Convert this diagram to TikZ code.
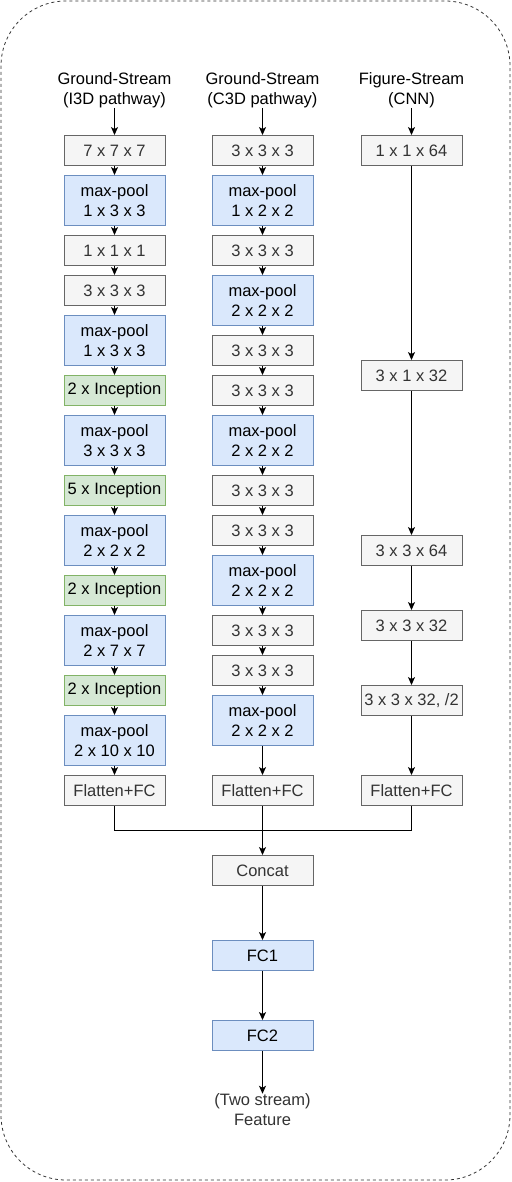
\documentclass[tikz,border=0pt]{standalone}
\usepackage{fontspec}
\setmainfont{Liberation Sans}
\usetikzlibrary{arrows.meta}
\definecolor{gfill}{HTML}{F5F5F5}
\definecolor{gline}{HTML}{666666}
\definecolor{gtext}{HTML}{333333}
\definecolor{bfill}{HTML}{DAE8FC}
\definecolor{bline}{HTML}{6C8EBF}
\definecolor{nfill}{HTML}{D5E8D4}
\definecolor{nline}{HTML}{82B366}
\tikzset{
  base/.style={minimum width=101pt, inner sep=0pt, align=center, line width=0.9pt,
    font=\fontsize{16.5}{20}\selectfont},
  graybox/.style={base, minimum height=30pt, fill=gfill, draw=gline, text=gtext},
  bluebox/.style={base, minimum height=50pt, fill=bfill, draw=bline},
  blueone/.style={base, minimum height=30pt, fill=bfill, draw=bline},
  greenbox/.style={base, minimum height=30pt, fill=nfill, draw=nline},
  lbl/.style={align=center, inner sep=0pt, font=\fontsize{16.5}{20}\selectfont},
  arr/.style={line width=0.9pt, -{Stealth[length=8pt,width=7pt,inset=2pt]}},
  ln/.style={line width=0.9pt}
}
\begin{document}
\begin{tikzpicture}[x=1pt,y=-1pt]
\useasboundingbox (0,0) rectangle (511,1182);
\draw[gray!40!black, line width=0.8pt, dash pattern=on 3pt off 3pt, rounded corners=65pt] (1,1) rectangle (510,1180);

% left column
\node[lbl] (hl) at (114.5,90) {Ground-Stream\\(I3D pathway)};
\node[graybox] (l1) at (114.5,150.5) {7 x 7 x 7};
\node[bluebox] (l2) at (114.5,200.5) {max-pool\\1 x 3 x 3};
\node[graybox] (l3) at (114.5,250.5) {1 x 1 x 1};
\node[graybox] (l4) at (114.5,290.5) {3 x 3 x 3};
\node[bluebox] (l5) at (114.5,340.5) {max-pool\\1 x 3 x 3};
\node[greenbox] (l6) at (114.5,390.5) {2 x Inception};
\node[bluebox] (l7) at (114.5,440.5) {max-pool\\3 x 3 x 3};
\node[greenbox] (l8) at (114.5,490.5) {5 x Inception};
\node[bluebox] (l9) at (114.5,540.5) {max-pool\\2 x 2 x 2};
\node[greenbox] (l10) at (114.5,590.5) {2 x Inception};
\node[bluebox] (l11) at (114.5,640.5) {max-pool\\2 x 7 x 7};
\node[greenbox] (l12) at (114.5,690.5) {2 x Inception};
\node[bluebox] (l13) at (114.5,740.5) {max-pool\\2 x 10 x 10};
\node[graybox] (lf) at (114.5,790.5) {Flatten+FC};

% middle column
\node[lbl] (hm) at (262.5,90) {Ground-Stream\\(C3D pathway)};
\node[graybox] (m1) at (262.5,150.5) {3 x 3 x 3};
\node[bluebox] (m2) at (262.5,200.5) {max-pool\\1 x 2 x 2};
\node[graybox] (m3) at (262.5,250.5) {3 x 3 x 3};
\node[bluebox] (m4) at (262.5,300.5) {max-pool\\2 x 2 x 2};
\node[graybox] (m5) at (262.5,350.5) {3 x 3 x 3};
\node[graybox] (m6) at (262.5,390.5) {3 x 3 x 3};
\node[bluebox] (m7) at (262.5,440.5) {max-pool\\2 x 2 x 2};
\node[graybox] (m8) at (262.5,490.5) {3 x 3 x 3};
\node[graybox] (m9) at (262.5,530.5) {3 x 3 x 3};
\node[bluebox] (m10) at (262.5,580.5) {max-pool\\2 x 2 x 2};
\node[graybox] (m11) at (262.5,630.5) {3 x 3 x 3};
\node[graybox] (m12) at (262.5,670.5) {3 x 3 x 3};
\node[bluebox] (m13) at (262.5,720.5) {max-pool\\2 x 2 x 2};
\node[graybox] (mf) at (262.5,790.5) {Flatten+FC};

% right column
\node[lbl] (hr) at (411.5,90) {Figure-Stream\\(CNN)};
\node[graybox] (r1) at (411.5,150.5) {1 x 1 x 64};
\node[graybox] (r2) at (411.5,375.5) {3 x 1 x 32};
\node[graybox] (r3) at (411.5,550.5) {3 x 3 x 64};
\node[graybox] (r4) at (411.5,625.5) {3 x 3 x 32};
\node[graybox] (r5) at (411.5,700.5) {3 x 3 x 32, /2};
\node[graybox] (rf) at (411.5,790.5) {Flatten+FC};

% bottom
\node[graybox] (cc) at (262.5,870.5) {Concat};
\node[blueone, text=black] (fc1) at (262.5,955.5) {FC1};
\node[blueone, text=black] (fc2) at (262.5,1035.5) {FC2};
\node[lbl, text=gtext] (out) at (262.5,1110) {(Two stream)\\Feature};

% arrows left
\draw[arr] (hl) -- (l1);
\foreach \a/\b in {l1/l2,l2/l3,l3/l4,l4/l5,l5/l6,l6/l7,l7/l8,l8/l9,l9/l10,l10/l11,l11/l12,l12/l13,l13/lf}
  \draw[arr] (\a) -- (\b);
% arrows middle
\draw[arr] (hm) -- (m1);
\foreach \a/\b in {m1/m2,m2/m3,m3/m4,m4/m5,m5/m6,m6/m7,m7/m8,m8/m9,m9/m10,m10/m11,m11/m12,m12/m13,m13/mf}
  \draw[arr] (\a) -- (\b);
% arrows right
\draw[arr] (hr) -- (r1);
\foreach \a/\b in {r1/r2,r2/r3,r3/r4,r4/r5,r5/rf}
  \draw[arr] (\a) -- (\b);

% merge
\coordinate (mg) at (262.5,830);
\draw[ln] (lf.south) |- (mg);
\draw[ln] (rf.south) |- (mg);
\draw[arr] (mf.south) -- (cc.north);
\draw[arr] (cc) -- (fc1);
\draw[arr] (fc1) -- (fc2);
\draw[arr] (fc2) -- (out);
\end{tikzpicture}
\end{document}
